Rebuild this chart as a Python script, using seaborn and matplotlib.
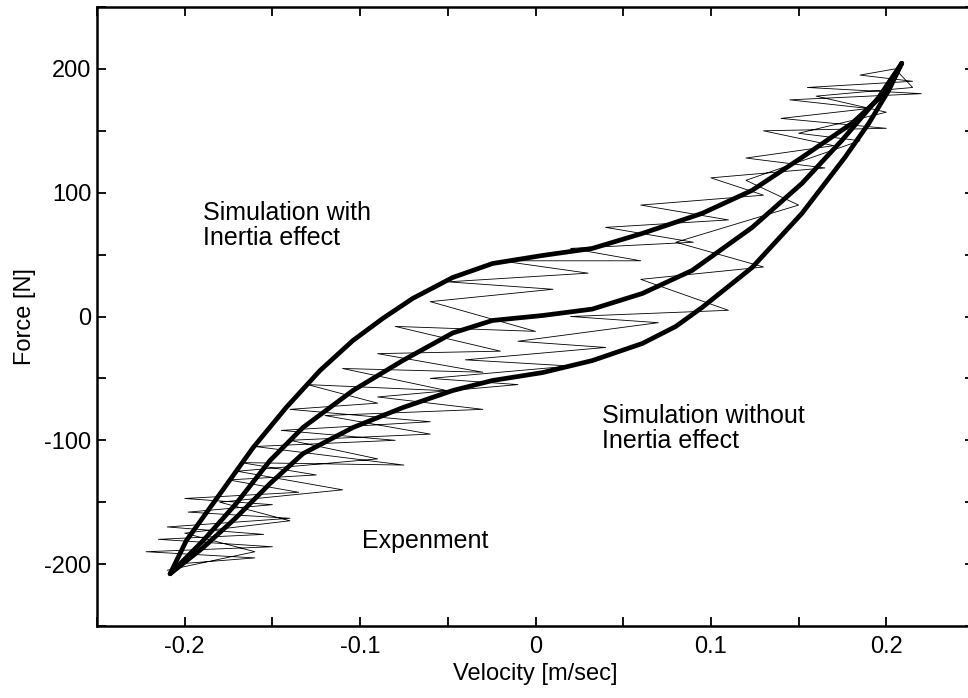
import numpy as np
import pandas as pd
import matplotlib
matplotlib.use("Agg")
import matplotlib.pyplot as plt
import seaborn as sns
from matplotlib.ticker import MultipleLocator

# ---- data ----
vel_upper = [-0.2083, -0.1991, -0.1798, -0.1610, -0.1422, -0.1229, -0.1041, -0.0870, -0.0700,
             -0.0472, -0.0245, 0.0040, 0.0324, 0.0609, 0.0950, 0.1235, 0.1519,
             0.1804, 0.1991, 0.2088]
force_upper = [-207.8, -181.1, -143.1, -105.9, -73.6, -43.7, -19.4, -1.5, 14.6,
               31.5, 42.8, 49.3, 55.0, 67.1, 83.3, 101.9, 128.5,
               156.0, 180.3, 204.5]

vel_mid = [-0.2083, -0.1895, -0.1707, -0.1514, -0.1326, -0.1041, -0.0757, -0.0472,
           -0.0245, 0.0040, 0.0324, 0.0609, 0.0893, 0.1235, 0.1519, 0.1747,
           0.1957, 0.2088]
force_mid = [-207.8, -181.1, -151.2, -116.4, -89.7, -59.8, -35.6, -13.3,
             -3.2, 0.8, 6.0, 18.6, 37.2, 71.9, 107.5, 142.3,
             177.0, 204.5]

vel_lower = [-0.2083, -0.1895, -0.1707, -0.1514, -0.1326, -0.1041, -0.0757, -0.0472,
             -0.0245, 0.0040, 0.0324, 0.0609, 0.0800, 0.0950, 0.1235, 0.1519, 0.1764,
             0.1900, 0.2014, 0.2088]
force_lower = [-207.8, -186.7, -162.5, -135.0, -110.8, -89.7, -73.6, -59.8,
               -51.7, -45.3, -35.6, -21.8, -8.0, 7.3, 39.6, 83.3, 128.5,
               156.0, 182.7, 204.5]

exp_vel = [-0.205, -0.16, -0.222, -0.15, -0.215, -0.155, -0.21, -0.14, -0.198, -0.15,
           -0.2, -0.135, -0.175, -0.125, -0.168, -0.075, -0.16, -0.08, -0.145, -0.06,
           -0.14, -0.09, -0.13, -0.05, -0.11, -0.03, -0.09, -0.02, -0.08, 0.0,
           -0.06, 0.01, -0.05, 0.03, -0.02, 0.06, 0.02, 0.09, 0.04, 0.11,
           0.06, 0.13, 0.10, 0.165, 0.12, 0.17, 0.13, 0.20, 0.14, 0.19,
           0.145, 0.22, 0.155, 0.215, 0.185, 0.205, 0.215, 0.16, 0.20, 0.15,
           0.185, 0.12, 0.15, 0.08, 0.13, 0.06, 0.11, 0.02, 0.07, -0.01,
           0.04, -0.04, 0.02, -0.06, -0.01, -0.09, -0.03, -0.12, -0.06, -0.14,
           -0.09, -0.17, -0.11, -0.18, -0.14, -0.20, -0.16, -0.21]
exp_force = [-200, -195, -190, -186, -180, -176, -170, -163, -158, -152,
             -147, -142, -132, -128, -118, -120, -105, -100, -92, -85,
             -75, -70, -55, -60, -42, -45, -30, -28, -8, -12,
             12, 22, 28, 35, 45, 45, 55, 60, 72, 78,
             90, 98, 112, 120, 128, 138, 150, 152, 160, 168,
             175, 180, 185, 190, 195, 200, 185, 178, 165, 148,
             142, 110, 90, 60, 40, 30, 5, 0, -5, -20,
             -25, -35, -40, -50, -55, -65, -75, -80, -95, -100,
             -115, -125, -140, -150, -165, -175, -190, -205]

x_ticks = [-0.2, -0.1, 0, 0.1, 0.2]
x_ticklabels = ["-0.2", "-0.1", "0", "0.1", "0.2"]
y_ticks = [-200, -100, 0, 100, 200]
y_ticklabels = ["-200", "-100", "0", "100", "200"]

# ---- figure ----
sns.set_theme(style="ticks")
plt.rcParams['font.family'] = ['Liberation Sans', 'DejaVu Sans']
plt.rcParams['text.color'] = 'black'
plt.rcParams['axes.labelcolor'] = 'black'
plt.rcParams['xtick.color'] = 'black'
plt.rcParams['ytick.color'] = 'black'

fig = plt.figure(figsize=(9.68, 6.98), dpi=100)
ax = fig.add_axes([97/968, 72/698, (974-97)/968, (626-7)/698])

df_exp = pd.DataFrame({"v": exp_vel, "F": exp_force})
sns.lineplot(data=df_exp, x="v", y="F", sort=False, estimator=None,
             color="black", linewidth=0.6, ax=ax)

for vv, ff in [(vel_upper, force_upper), (vel_mid, force_mid), (vel_lower, force_lower)]:
    d = pd.DataFrame({"v": vv, "F": ff})
    sns.lineplot(data=d, x="v", y="F", sort=False, estimator=None,
                 color="black", linewidth=3.4, ax=ax)

ax.set_xlim(-0.25, 0.25)
ax.set_ylim(-250, 250)
ax.set_xticks(x_ticks)
ax.set_xticklabels(x_ticklabels)
ax.set_yticks(y_ticks)
ax.set_yticklabels(y_ticklabels)
ax.xaxis.set_minor_locator(MultipleLocator(0.05))
ax.yaxis.set_minor_locator(MultipleLocator(50))
ax.tick_params(which="both", direction="in", top=True, right=True,
               length=6.5, width=1.3, color="black")
ax.tick_params(axis="y", which="major", labelsize=17, pad=4, labelcolor="black")
ax.tick_params(axis="x", which="major", labelsize=17, pad=7, labelcolor="black")
for s in ax.spines.values():
    s.set_linewidth(1.8)
    s.set_color("black")
    s.set_visible(True)

ax.set_xlabel("Velocity [m/sec]", fontsize=17, labelpad=4, color="black")
ax.set_ylabel("Force [N]", fontsize=17, labelpad=6, color="black")
ax.grid(False)

ax.text(-0.1895, 93, "Simulation with\nInertia effect", fontsize=18,
        ha="left", va="top", linespacing=1.05, color="black")
ax.text(0.038, -71, "Simulation without\nInertia effect", fontsize=18,
        ha="left", va="top", linespacing=1.05, color="black")
ax.text(-0.099, -181, "Expenment", fontsize=18, ha="left", va="center", color="black")

fig.savefig("out.png", dpi=100)
